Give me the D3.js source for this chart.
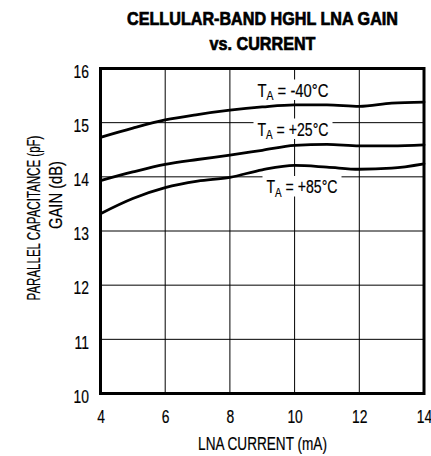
<!DOCTYPE html>
<html><head><meta charset="utf-8">
<script src="https://cdn.jsdelivr.net/npm/d3@7"></script>
<style>
body{margin:0;background:#fff;}
svg{display:block;font-family:"Liberation Sans",Arial,sans-serif;}
</style></head>
<body><svg id="c" width="431" height="456"></svg>
<script>
const current = [4,5,6,7,8,9,10,11,12,13,14];
const gainM40 = [14.73,14.90,15.05,15.15,15.23,15.29,15.33,15.33,15.30,15.36,15.38];
const gainP25 = [13.93,14.09,14.23,14.32,14.40,14.49,14.58,14.60,14.57,14.57,14.59];
const gainP85 = [13.32,13.60,13.80,13.92,13.99,14.13,14.21,14.18,14.14,14.16,14.24];
const xTicks = [4,6,8,10,12,14];
const yTicks = [10,11,12,13,14,15,16];
const seriesLabels = ["-40°C","+25°C","+85°C"];

const svg = d3.select("#c");
const x = d3.scaleLinear().domain([4,14]).range([100.5,424]);
const y = d3.scaleLinear().domain([10,16]).range([393.5,68.5]);
const F = 0.75; // condense factor

function ctext(parent, tx, ty, str, opts){
  opts = opts||{};
  const g = parent.append("g");
  const t = g.append("text").attr("x",0).attr("y",0)
    .attr("text-anchor",opts.anchor||"start")
    .attr("font-size",opts.size||18)
    .attr("font-weight",opts.weight||"normal")
    .attr("fill","#000").text(str);
  if(opts.stroke){ t.attr("stroke","#000").attr("stroke-width",opts.stroke); }
  let f = opts.factor||F;
  if(opts.width){ f = opts.width / t.node().getComputedTextLength(); }
  g.attr("transform",`translate(${tx},${ty}) ${opts.rotate?"rotate("+opts.rotate+")":""} scale(${f},1)`);
  return g;
}

// title
const t1 = ctext(svg,262.5,25,"CELLULAR-BAND HGHL LNA GAIN",{anchor:"middle",size:18.5,weight:"bold",width:271,stroke:0.7});
const tf = 271 / t1.select("text").node().getComputedTextLength();
ctext(svg,262.5,50,"vs. CURRENT",{anchor:"middle",size:18.5,weight:"bold",factor:tf,stroke:0.7});

// grid
const g = svg.append("g");
g.selectAll(".vg").data(xTicks.slice(1,-1)).join("line")
  .attr("x1",d=>x(d)).attr("x2",d=>x(d)).attr("y1",y(16)).attr("y2",y(10))
  .attr("stroke","#000").attr("stroke-width",1);
g.selectAll(".hg").data(yTicks.slice(1,-1)).join("line")
  .attr("y1",d=>y(d)).attr("y2",d=>y(d)).attr("x1",x(4)).attr("x2",x(14))
  .attr("stroke","#000").attr("stroke-width",1);

// curves
const line = d3.line().x((d,i)=>x(current[i])).y(d=>y(d)).curve(d3.curveMonotoneX);
[gainM40,gainP25,gainP85].forEach(s=>{
  svg.append("path").attr("d",line(s)).attr("fill","none")
    .attr("stroke","#000").attr("stroke-width",2.8).attr("stroke-linecap","round");
});

// series labels with white background
const labPos = [[257.5,96.5],[257.5,135.5],[266.5,193]];
seriesLabels.forEach((s,i)=>{
  const lg = svg.append("g");
  const inner = lg.append("g");
  const txt = inner.append("text").attr("x",0).attr("y",0).attr("font-size",18.5).attr("fill","#000")
    .attr("stroke","#000").attr("stroke-width",0.2);
  txt.append("tspan").text("T");
  txt.append("tspan").attr("font-size",13).attr("dy",3.5).text("A");
  txt.append("tspan").attr("dy",-3.5).text(" = "+s);
  const w = txt.node().getComputedTextLength();
  const f = 71 / w;
  inner.attr("transform",`translate(${labPos[i][0]},${labPos[i][1]}) scale(${f},1)`);
  lg.insert("rect","g").attr("x",labPos[i][0]-4).attr("y",labPos[i][1]-17)
    .attr("width",71+8).attr("height",20.5).attr("fill","#fff");
});

// border
svg.append("rect").attr("x",x(4)).attr("y",y(16)).attr("width",x(14)-x(4)).attr("height",y(10)-y(16))
  .attr("fill","none").attr("stroke","#000").attr("stroke-width",3);

// axes
const xa = svg.append("g").attr("transform",`translate(0,${y(10)})`)
  .call(d3.axisBottom(x).tickValues(xTicks).tickSize(0).tickPadding(16.7).tickFormat(d3.format("d")));
xa.select(".domain").remove();
xa.selectAll("text").attr("font-size",18.5).attr("font-family","Liberation Sans, Arial, sans-serif")
  .attr("fill","#000").attr("stroke","#000").attr("stroke-width",0.2).attr("transform",`scale(${F},1)`);
const ya = svg.append("g").attr("transform",`translate(${x(4)},0)`)
  .call(d3.axisLeft(y).tickValues(yTicks).tickSize(0).tickPadding(11.5/F).tickFormat(d3.format("d")));
ya.select(".domain").remove();
ya.selectAll("text").attr("font-size",18.5).attr("font-family","Liberation Sans, Arial, sans-serif")
  .attr("fill","#000").attr("stroke","#000").attr("stroke-width",0.2).attr("dy","0.47em").attr("transform",`scale(${F},1)`);

// axis titles
ctext(svg,262.5,450,"LNA CURRENT (mA)",{anchor:"middle",size:18.5,width:129,stroke:0.2});
ctext(svg,40,218,"PARALLEL CAPACITANCE (pF)",{anchor:"middle",size:18,width:165,rotate:-90,stroke:0.2});
ctext(svg,62,195,"GAIN (dB)",{anchor:"middle",size:18,width:68,rotate:-90,stroke:0.2});
</script></body></html>
